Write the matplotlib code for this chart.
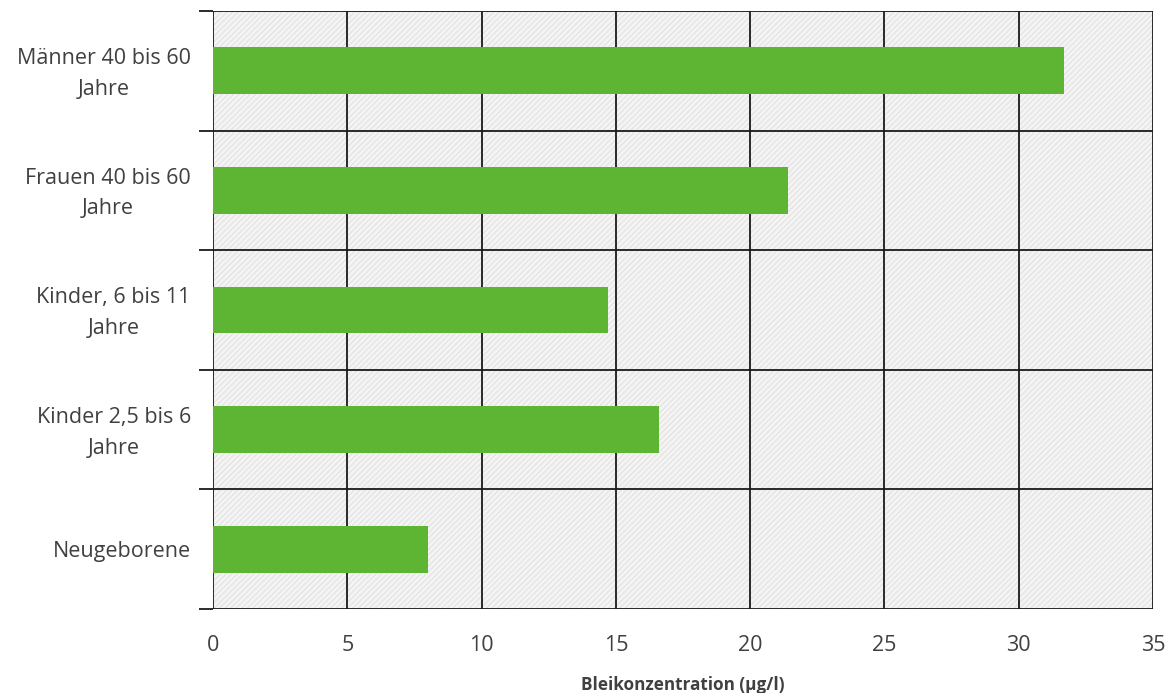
import matplotlib
matplotlib.use("Agg")
import matplotlib.pyplot as plt
from matplotlib.patches import Rectangle
from matplotlib.transforms import ScaledTranslation
import numpy as np

categories = ["Neugeborene", "Kinder 2,5 bis 6\nJahre", "Kinder, 6 bis 11\nJahre",
              "Frauen 40 bis 60\nJahre", "Männer 40 bis 60\nJahre"]
values = [8.0, 16.6, 14.7, 21.4, 31.7]
xticks = [0, 5, 10, 15, 20, 25, 30, 35]
xlabel = "Bleikonzentration (µg/l)"

plt.rcParams['font.family'] = ['Open Sans', 'DejaVu Sans']
plt.rcParams['hatch.linewidth'] = 0.8
txt = '#404040'

fig = plt.figure(figsize=(11.72, 6.93), dpi=100)
ax = fig.add_axes([213/1172, 1 - 609/693, (1153-213)/1172, (609-11)/693])

ax.set_xlim(0, 35)
ax.set_ylim(-0.5, len(categories) - 0.5)

# hatched background
bg = Rectangle((0, 0), 1, 1, transform=ax.transAxes, facecolor='#f4f4f4',
               edgecolor='#e2e2e2', hatch='//////', linewidth=0, zorder=0)
ax.add_patch(bg)

y = np.arange(len(categories))
ax.barh(y, values, height=0.39, color='#5db533', zorder=3)

# gridlines
for xv in xticks:
    ax.axvline(xv, color='#1a1a1a', lw=1.3, zorder=2)
bounds = np.arange(len(categories) + 1) - 0.5
for b in bounds:
    ax.axhline(b, color='#1a1a1a', lw=1.3, zorder=2)

ax.set_yticks(y)
ax.set_yticklabels(categories, multialignment='center', fontsize=15.5, color=txt,
                   linespacing=1.6)
ax.set_yticks(bounds, minor=True)
ax.tick_params(axis='y', which='major', length=0, pad=16)
ax.tick_params(axis='y', which='minor', length=10, width=1.3, color='#1a1a1a')

shift = ScaledTranslation(0, 3/72, fig.dpi_scale_trans)
for lbl in ax.get_yticklabels():
    if '\n' in lbl.get_text():
        lbl.set_transform(lbl.get_transform() + shift)

ax.set_xticks(xticks)
ax.set_xticklabels([str(v) for v in xticks], fontsize=15.5, color=txt)
ax.tick_params(axis='x', length=0, pad=19)

ax.set_xlabel(xlabel, fontsize=12.3, fontweight='bold', color=txt, labelpad=14)

for s in ax.spines.values():
    s.set_visible(False)

fig.savefig("out.png", dpi=100, facecolor='white')
